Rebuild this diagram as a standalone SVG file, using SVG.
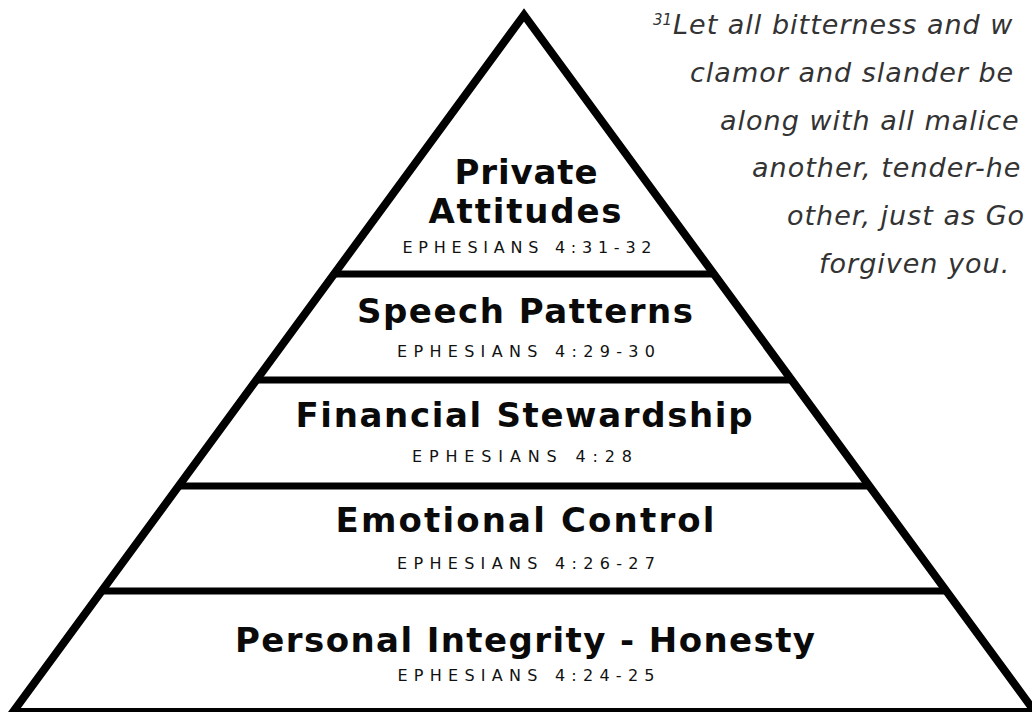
<svg xmlns="http://www.w3.org/2000/svg" width="1032" height="712" viewBox="0 0 1032 712">
  <style>
    .edge { fill: none; stroke: #000; stroke-width: 8; stroke-linejoin: miter; }
    .tier { stroke: #000; stroke-width: 7; }
    .title { font-family: "DejaVu Sans", "Liberation Sans", sans-serif; font-weight: 700; font-size: 34px; fill: #0a0a0a; text-anchor: middle; }
    .ref { font-family: "DejaVu Sans", "Liberation Sans", sans-serif; font-size: 16px; fill: #111; text-anchor: middle; }
    .verse { font-family: "DejaVu Sans", "Liberation Sans", sans-serif; font-style: italic; font-size: 27px; letter-spacing: 1px; fill: #333; }
    .num { font-size: 15px; letter-spacing: 0; }
  </style>
  <rect width="1032" height="712" fill="#fff"/>

  <!-- pyramid outline and tier dividers -->
  <g id="connectors">
    <polygon class="edge" points="524,15 13,712 1035,712"/>
    <line class="tier" x1="333" y1="274" x2="715" y2="274"/>
    <line class="tier" x1="256" y1="380" x2="792" y2="380"/>
    <line class="tier" x1="178" y1="486" x2="870" y2="486"/>
    <line class="tier" x1="101" y1="591" x2="947" y2="591"/>
  </g>

  <g id="tier-private">
    <text class="title" x="526" y="184" textLength="143">Private</text>
    <text class="title" x="525" y="223" textLength="193">Attitudes</text>
    <text class="ref" x="527" y="253" textLength="249">EPHESIANS 4:31-32</text>
  </g>

  <g id="tier-speech">
    <text class="title" x="525" y="323" textLength="336">Speech Patterns</text>
    <text class="ref" x="526" y="357" textLength="258">EPHESIANS 4:29-30</text>
  </g>

  <g id="tier-financial">
    <text class="title" x="524" y="427" textLength="457">Financial Stewardship</text>
    <text class="ref" x="522" y="462" textLength="220">EPHESIANS 4:28</text>
  </g>

  <g id="tier-emotional">
    <text class="title" x="525" y="532" textLength="379">Emotional Control</text>
    <text class="ref" x="526" y="569" textLength="258">EPHESIANS 4:26-27</text>
  </g>

  <g id="tier-integrity">
    <text class="title" x="525" y="652" textLength="580">Personal Integrity - Honesty</text>
    <text class="ref" x="526" y="681" textLength="257">EPHESIANS 4:24-25</text>
  </g>

  <!-- verse beside the pyramid, lines stepped along the slope and running off the right edge -->
  <g id="verse">
    <text class="verse" x="653" y="34"><tspan class="num" dy="-9">31</tspan><tspan x="673" dy="9">Let all bitterness and w</tspan></text>
    <text class="verse" x="690" y="82">clamor and slander be</text>
    <text class="verse" x="720" y="130">along with all malice</text>
    <text class="verse" x="752" y="177">another, tender-he</text>
    <text class="verse" x="787" y="225">other, just as Go</text>
    <text class="verse" x="819" y="273">forgiven you.</text>
  </g>
</svg>
